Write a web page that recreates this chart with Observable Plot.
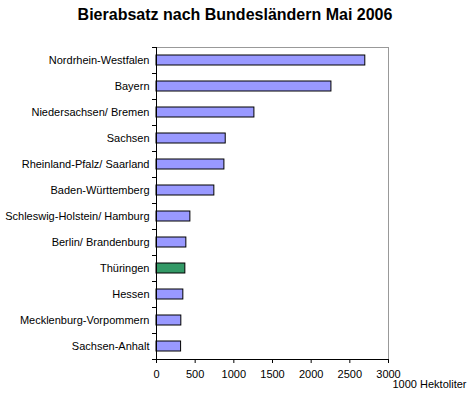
<!DOCTYPE html>
<html><head><meta charset="utf-8">
<script src="https://cdn.jsdelivr.net/npm/d3@7"></script>
<script src="https://cdn.jsdelivr.net/npm/@observablehq/plot@0.6"></script>
<style>
body{margin:0;background:#fff;width:470px;height:399px;overflow:hidden}
#title{height:34px;padding-top:6px;line-height:18px;font:bold 16px "Liberation Sans",Arial,sans-serif;text-align:center;color:#000}
</style></head><body>
<div id="title">Bierabsatz nach Bundesländern Mai 2006</div>
<div id="chart"></div>
<script>
const states = ["Nordrhein-Westfalen","Bayern","Niedersachsen/ Bremen","Sachsen","Rheinland-Pfalz/ Saarland","Baden-Württemberg","Schleswig-Holstein/ Hamburg","Berlin/ Brandenburg","Thüringen","Hessen","Mecklenburg-Vorpommern","Sachsen-Anhalt"];
const values = [2700,2262,1266,895,878,748,438,386,373,347,321,318];
const highlight = "Thüringen";
const xTicks = [0,500,1000,1500,2000,2500,3000];
const unitLabel = "1000 Hektoliter";

const data = states.map((s,i)=>({state:s,value:values[i]}));

const chart = Plot.plot({
  width:470, height:359,
  marginTop:7, marginBottom:40, marginLeft:156, marginRight:82,
  style:{fontFamily:'"Liberation Sans",Arial,sans-serif',fontSize:"11px",background:"#fff",color:"#000"},
  x:{domain:[0,3000], ticks:xTicks, tickFormat:"d", label:null},
  y:{domain:states, paddingInner:0.6, paddingOuter:0.3, label:null},
  marks:[
    Plot.frame({anchor:"top", stroke:"#999", strokeDasharray:"1,1"}),
    Plot.frame({anchor:"right", stroke:"#999", strokeDasharray:"1,1"}),
    Plot.barX(data,{x:"value", y:"state", fill:d=>d.state===highlight?"#339966":"#9999FF", stroke:"#000", strokeWidth:1}),
    Plot.axisY({tickSize:0, tickPadding:7, fontSize:11, label:null}),
    Plot.axisY({tickSize:4, dy:-13, tickFormat:()=>"", label:null, stroke:"#000", strokeWidth:1}),
    Plot.axisY({ticks:[states[states.length-1]], tickSize:4, dy:13, tickFormat:()=>"", label:null, stroke:"#000", strokeWidth:1}),
    Plot.axisX({ticks:xTicks, tickFormat:"d", tickSize:4, tickPadding:7, fontSize:11, label:null, stroke:"#000"}),
    Plot.ruleX([0],{stroke:"#000", strokeWidth:1}),
    Plot.frame({anchor:"bottom", stroke:"#000", strokeWidth:1}),
    Plot.text([unitLabel],{x:()=>3000, frameAnchor:"bottom", dy:25, dx:4, textAnchor:"start", lineAnchor:"middle", fontSize:11, fill:"#000"})
  ]
});
document.getElementById("chart").appendChild(chart);
</script>
</body></html>
